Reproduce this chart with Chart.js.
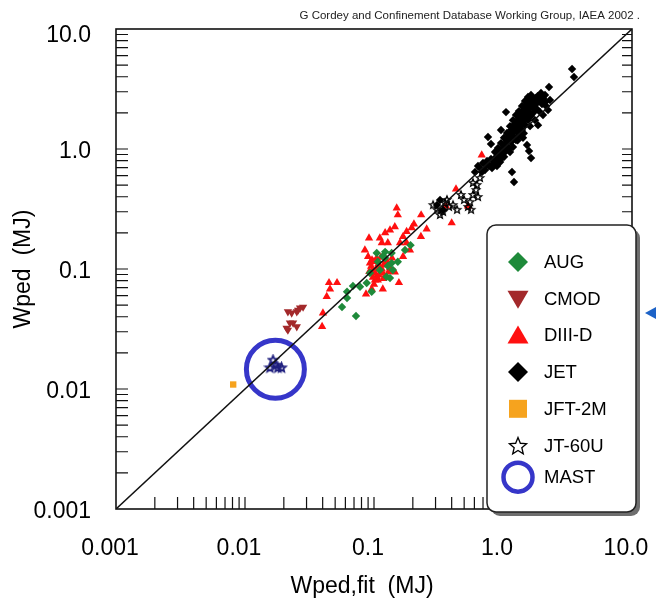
<!DOCTYPE HTML><html>
<head>
  <meta charset="utf-8">
  <script src="https://cdn.jsdelivr.net/npm/chart.js"></script>
  <style>
    html, body { margin: 0; padding: 0; background: #fff; }
    canvas { display: block; }
  </style>
</head>
<body>
<canvas id="wpedChart" width="656" height="600"></canvas>
<script>
  // values, [Wped,fit, Wped] in MJ
  const augPoints = [[0.105,0.136],[0.122,0.139],[0.137,0.136],[0.174,0.144],[0.192,0.158],[0.153,0.115],
    [0.137,0.112],[0.125,0.0863],[0.133,0.0841],[0.122,0.1235],[0.107,0.115],[0.093,0.0926],[0.0878,0.0764],
    [0.0779,0.0712],[0.0687,0.0721],[0.0618,0.0647],[0.0618,0.0573],[0.0565,0.0482],[0.0725,0.0406],
    [0.096,0.0647],[0.111,0.098],[0.128,0.106],[0.117,0.128],[0.14,0.098]];
  const cmodPoints = [[0.0215,0.0441],[0.023,0.043],[0.0252,0.0441],[0.0267,0.0473],[0.0282,0.0482],
    [0.0223,0.0355],[0.0236,0.0355],[0.021,0.0322],[0.0252,0.0331],[0.0215,0.031],[0.0258,0.0455]];
  const d3dPoints = [[0.684,0.891],[0.432,0.464],[0.40,0.242],[0.535,0.335],[0.361,0.335],[0.256,0.215],
    [0.231,0.186],[0.232,0.282],[0.204,0.237],[0.196,0.220],[0.179,0.205],[0.168,0.186],[0.150,0.322],
    [0.153,0.282],[0.145,0.225],[0.133,0.211],[0.122,0.2],[0.111,0.181],[0.115,0.165],[0.0915,0.181],
    [0.128,0.165],[0.159,0.165],[0.179,0.165],[0.190,0.144],[0.168,0.127],[0.090,0.127],[0.093,0.112],
    [0.098,0.098],[0.105,0.0863],[0.111,0.1045],[0.117,0.0926],[0.107,0.0809],[0.1018,0.0809],[0.156,0.0769],
    [0.117,0.0681],[0.096,0.0681],[0.0867,0.0619],[0.0517,0.0769],[0.0448,0.0769],[0.0456,0.0681],
    [0.043,0.0588],[0.0402,0.043],[0.0396,0.0331],[0.0965,0.119],[0.105,0.123],[0.122,0.114],[0.133,0.102],
    [0.126,0.0863],[0.1,0.0746],[0.113,0.0944],[0.145,0.0944],[0.085,0.144],[0.138,0.123],
    [0.095,0.105],[0.1,0.115],[0.108,0.11],[0.115,0.1],[0.12,0.108],[0.102,0.092],[0.109,0.089],
    [0.118,0.083],[0.098,0.085],[0.13,0.095],[0.125,0.118],[0.113,0.125],[0.104,0.1],[0.092,0.095]];
  const jetPoints = [[0.663,0.695],[0.70,0.765],[0.725,0.668],[0.752,0.794],[0.779,0.722],[0.807,0.825],
    [0.822,0.695],[0.851,0.765],[0.883,0.858],[0.898,0.722],[0.931,0.81],[0.948,0.926],[0.982,0.841],
    [1.0,1.02],[1.036,0.944],[1.055,1.12],[1.093,1.04],[1.113,1.24],[1.153,1.14],[1.174,1.36],[1.217,1.26],
    [1.239,1.50],[1.284,1.39],[1.307,1.65],[1.354,1.53],[1.379,1.81],[1.429,1.68],[1.455,2.0],[1.508,1.85],
    [1.535,2.20],[1.591,2.03],[1.619,2.37],[1.678,2.24],[1.708,2.56],[1.770,2.37],[1.802,2.66],[1.868,2.46],
    [1.936,2.61],[2.006,2.37],[2.079,2.51],[2.155,2.28],[2.233,2.11],[1.133,1.55],[1.195,1.74],[1.261,1.92],
    [1.330,2.07],[1.404,2.28],[1.481,2.51],[1.563,2.71],[1.649,2.82],[1.018,1.24],[1.074,1.36],[0.965,1.12],
    [0.915,1.02],[0.867,0.944],[1.330,1.31],[1.404,1.44],[1.481,1.58],[1.563,1.74],[1.649,1.88],[1.739,2.03],
    [1.835,2.15],[1.936,2.03],[2.042,1.92],[1.261,1.19],[1.195,1.04],[1.133,0.944],[1.429,1.24],[1.535,1.08],
    [1.591,0.962],[1.649,0.841],[1.174,0.643],[1.217,0.531],[1.055,2.03],[0.965,1.44],[0.765,1.26],[0.807,1.10],
    [2.273,3.29],[3.43,4.64],[3.55,3.98],[0.738,0.736],[0.687,0.643],[0.64,0.722],[0.607,0.643],[2.117,2.82],
    [1.971,2.93],[2.314,2.56],[1.770,1.74],[1.868,1.58],[0.308,0.341],[0.325,0.376],[0.343,0.311],
    [0.86,0.80],[0.92,0.87],[0.97,0.95],[1.02,1.08],[1.08,1.18],[1.12,1.30],[1.16,1.45],[1.22,1.60],
    [1.27,1.70],[1.33,1.85],[1.38,1.95],[1.45,2.12],[1.52,2.35],[1.60,2.45],[1.68,2.55],[1.75,2.60],
    [1.85,2.75],[1.95,2.78],[2.05,2.65],[2.12,2.45],[1.25,1.45],[1.35,1.62],[1.42,1.78],[1.50,1.95],
    [1.58,2.15],[1.70,2.25],[1.80,2.40],[0.76,0.75],[0.84,0.72],[0.95,0.78],[1.02,0.86],[1.10,1.00],
    [1.30,1.18],[1.45,1.35],[1.62,1.55]];
  const jft2mPoints = [[0.0081,0.0109]];
  const jt60uPoints = [[0.355,0.355],[0.381,0.329],[0.41,0.341],[0.44,0.311],[0.535,0.329],[0.565,0.311],
    [0.555,0.361],[0.585,0.414],[0.618,0.455],[0.64,0.398],[0.585,0.521],[0.663,0.573],[0.628,0.501],
    [0.287,0.341],[0.308,0.311],[0.325,0.282],[0.368,0.376],[0.343,0.299],[0.499,0.376],[0.472,0.414]];
  const mastPoints = [[0.0165,0.0174],[0.0156,0.015],[0.018,0.015],[0.0192,0.015],[0.0174,0.0158]];
  const mastRing = [[0.0172,0.0146]];
  const unityLine = [[0.001,0.001],[10,10]];

  const seriesNames = ['AUG', 'CMOD', 'DIII-D', 'JET', 'JFT-2M', 'JT-60U', 'MAST'];
  const tickValues = [0.001, 0.01, 0.1, 1, 10];
  const tickLabels = ['0.001', '0.01', '0.1', '1.0', '10.0'];
  const minorMults = [1, 2, 3, 4, 5, 6, 7, 8, 9];
  const xTitle = 'Wped,fit  (MJ)';
  const yTitle = 'Wped  (MJ)';
  const creditText = 'G Cordey and Confinement Database Working Group, IAEA 2002 .';

  const colors = {
    AUG: '#1e8a3a', CMOD: '#a3292b', 'DIII-D': '#ff1010', JET: '#000000',
    'JFT-2M': '#f6a31e', 'JT-60U': '#000000', MAST: '#3636c9', mastStar: '#1e1e7e'
  };
  const FONT = '"Liberation Sans", Arial, Helvetica, sans-serif';

  function toXY(arr) { return arr.map(p => ({x: p[0], y: p[1]})); }

  function starPath(g, cx, cy, ro, ri) {
    g.beginPath();
    for (let i = 0; i < 10; i++) {
      const r = i % 2 ? ri : ro;
      const a = -Math.PI / 2 + i * Math.PI / 5;
      g.lineTo(cx + r * Math.cos(a), cy + r * Math.sin(a));
    }
    g.closePath();
  }

  function makeStar(color, r, lw) {
    const c = document.createElement('canvas');
    const s = Math.ceil(r * 2 + 4);
    c.width = s; c.height = s;
    const g = c.getContext('2d');
    starPath(g, s / 2, s / 2, r, r * 0.45);
    g.strokeStyle = color; g.lineWidth = lw; g.stroke();
    return c;
  }

  const jtStar = makeStar('#000', 4, 1.3);
  const mastStar = makeStar(colors.mastStar, 4.5, 1.8);

  // frame, inward ticks, tick labels, titles
  const framePlugin = {
    id: 'frame',
    beforeDatasetsDraw(chart) {
      const {ctx, chartArea: a, scales: {x, y}} = chart;
      ctx.save();
      ctx.strokeStyle = '#111';
      ctx.lineWidth = 1.2;
      ctx.beginPath();
      tickValues.slice(0, 4).forEach(dec => {
        minorMults.forEach(m => {
          const v = dec * m;
          if (v <= 0.001) return;
          const px = x.getPixelForValue(v);
          ctx.moveTo(px, a.bottom); ctx.lineTo(px, a.bottom - 12);
          const py = y.getPixelForValue(v);
          ctx.moveTo(a.left, py); ctx.lineTo(a.left + 12, py);
          ctx.moveTo(a.right, py); ctx.lineTo(a.right - 10, py);
        });
      });
      ctx.stroke();
      ctx.lineWidth = 1.6;
      ctx.strokeRect(a.left, a.top, a.right - a.left, a.bottom - a.top);

      ctx.fillStyle = '#000';
      ctx.font = '23px ' + FONT;
      ctx.textBaseline = 'middle';
      ctx.textAlign = 'right';
      tickValues.forEach((v, i) => {
        const py = Math.max(y.getPixelForValue(v) + 3, a.top + 7);
        ctx.fillText(tickLabels[i], a.left - 25, py);
      });
      ctx.textAlign = 'center';
      tickValues.forEach((v, i) => {
        ctx.fillText(tickLabels[i], x.getPixelForValue(v) - 6, a.bottom + 40);
      });
      ctx.fillText(xTitle, (a.left + a.right) / 2 - 12, a.bottom + 78);
      ctx.save();
      ctx.translate(24, (a.top + a.bottom) / 2);
      ctx.rotate(-Math.PI / 2);
      ctx.fillText(yTitle, 0, 0);
      ctx.restore();

      ctx.font = '11.5px ' + FONT;
      ctx.fillStyle = '#222';
      ctx.textAlign = 'right';
      ctx.fillText(creditText, 640, 16);
      ctx.restore();
    }
  };

  function roundRect(ctx, x, y, w, h, r) {
    ctx.beginPath();
    ctx.moveTo(x + r, y);
    ctx.arcTo(x + w, y, x + w, y + h, r);
    ctx.arcTo(x + w, y + h, x, y + h, r);
    ctx.arcTo(x, y + h, x, y, r);
    ctx.arcTo(x, y, x + w, y, r);
    ctx.closePath();
  }

  function legendMarker(ctx, name, cx, cy) {
    ctx.save();
    ctx.fillStyle = colors[name];
    ctx.strokeStyle = colors[name];
    ctx.beginPath();
    if (name === 'AUG' || name === 'JET') {
      ctx.moveTo(cx, cy - 10); ctx.lineTo(cx + 10, cy); ctx.lineTo(cx, cy + 10); ctx.lineTo(cx - 10, cy);
      ctx.closePath(); ctx.fill();
    } else if (name === 'CMOD') {
      ctx.moveTo(cx - 10.5, cy - 8); ctx.lineTo(cx + 10.5, cy - 8); ctx.lineTo(cx, cy + 10);
      ctx.closePath(); ctx.fill();
    } else if (name === 'DIII-D') {
      ctx.moveTo(cx - 10.5, cy + 8); ctx.lineTo(cx + 10.5, cy + 8); ctx.lineTo(cx, cy - 10);
      ctx.closePath(); ctx.fill();
    } else if (name === 'JFT-2M') {
      ctx.fillRect(cx - 9, cy - 9, 18, 18);
    } else if (name === 'JT-60U') {
      starPath(ctx, cx, cy + 1, 9, 4);
      ctx.fillStyle = '#fff'; ctx.fill();
      ctx.strokeStyle = '#000'; ctx.lineWidth = 1.3; ctx.stroke();
    } else if (name === 'MAST') {
      ctx.arc(cx, cy, 14.5, 0, Math.PI * 2);
      ctx.lineWidth = 4.5; ctx.stroke();
    }
    ctx.restore();
  }

  const legendPlugin = {
    id: 'boxLegend',
    afterDraw(chart) {
      const {ctx, chartArea: a} = chart;
      const bx = a.right - 145, by = 225, bw = 149, bh = 287;
      ctx.save();
      roundRect(ctx, bx + 4, by + 4, bw, bh, 9);
      ctx.fillStyle = '#6e6e6e'; ctx.fill();
      roundRect(ctx, bx, by, bw, bh, 9);
      ctx.fillStyle = '#fff'; ctx.fill();
      ctx.strokeStyle = '#222'; ctx.lineWidth = 1.5; ctx.stroke();
      ctx.font = '18.5px ' + FONT;
      ctx.fillStyle = '#000';
      ctx.textAlign = 'left';
      ctx.textBaseline = 'middle';
      seriesNames.forEach((name, i) => {
        const ry = by + 37 + i * 36.7 - (i === 6 ? 5 : 0);
        legendMarker(ctx, name, bx + 31, ry);
        ctx.fillStyle = '#000';
        ctx.fillText(name, bx + 57, ry + 1);
      });
      // pointer arrow at the right edge
      ctx.fillStyle = '#1d63c7';
      ctx.beginPath();
      ctx.moveTo(645, 313); ctx.lineTo(657, 306.5); ctx.lineTo(657, 319.5);
      ctx.closePath(); ctx.fill();
      ctx.restore();
    }
  };

  const ctx = document.getElementById('wpedChart').getContext('2d');
  const wpedChart = new Chart(ctx, {
    type: 'scatter',
    data: {
      datasets: [
        { label: 'fit', data: toXY(unityLine), showLine: true, borderColor: '#111', borderWidth: 1.5,
          pointRadius: 0, order: 0 },
        { label: 'MAST ring', data: toXY(mastRing), pointStyle: 'circle', pointRadius: 29,
          backgroundColor: 'rgba(0,0,0,0)', borderColor: colors.MAST, pointBorderWidth: 5, order: 1 },
        { label: 'MAST', data: toXY(mastPoints), pointStyle: mastStar, order: 2 },
        { label: 'JT-60U', data: toXY(jt60uPoints), pointStyle: jtStar, order: 3 },
        { label: 'JET', data: toXY(jetPoints), pointStyle: 'rectRot', pointRadius: 4.2,
          backgroundColor: colors.JET, pointBorderWidth: 0, order: 4 },
        { label: 'AUG', data: toXY(augPoints), pointStyle: 'rectRot', pointRadius: 4.2,
          backgroundColor: colors.AUG, pointBorderWidth: 0, order: 5 },
        { label: 'CMOD', data: toXY(cmodPoints), pointStyle: 'triangle', pointRotation: 180, pointRadius: 4.8,
          backgroundColor: colors.CMOD, pointBorderWidth: 0, order: 6 },
        { label: 'DIII-D', data: toXY(d3dPoints), pointStyle: 'triangle', pointRadius: 4.8,
          backgroundColor: colors['DIII-D'], pointBorderWidth: 0, order: 7 },
        { label: 'JFT-2M', data: toXY(jft2mPoints), pointStyle: 'rect', pointRadius: 4.5,
          backgroundColor: colors['JFT-2M'], pointBorderWidth: 0, order: 8 }
      ]
    },
    options: {
      responsive: false,
      animation: false,
      layout: { autoPadding: false, padding: { left: 116, top: 29, right: 24, bottom: 91 } },
      scales: {
        x: { type: 'logarithmic', min: 0.001, max: 10, display: false },
        y: { type: 'logarithmic', min: 0.001, max: 10, display: false }
      },
      plugins: { legend: { display: false }, tooltip: { enabled: false } }
    },
    plugins: [framePlugin, legendPlugin]
  });
</script>
</body>
</html>
